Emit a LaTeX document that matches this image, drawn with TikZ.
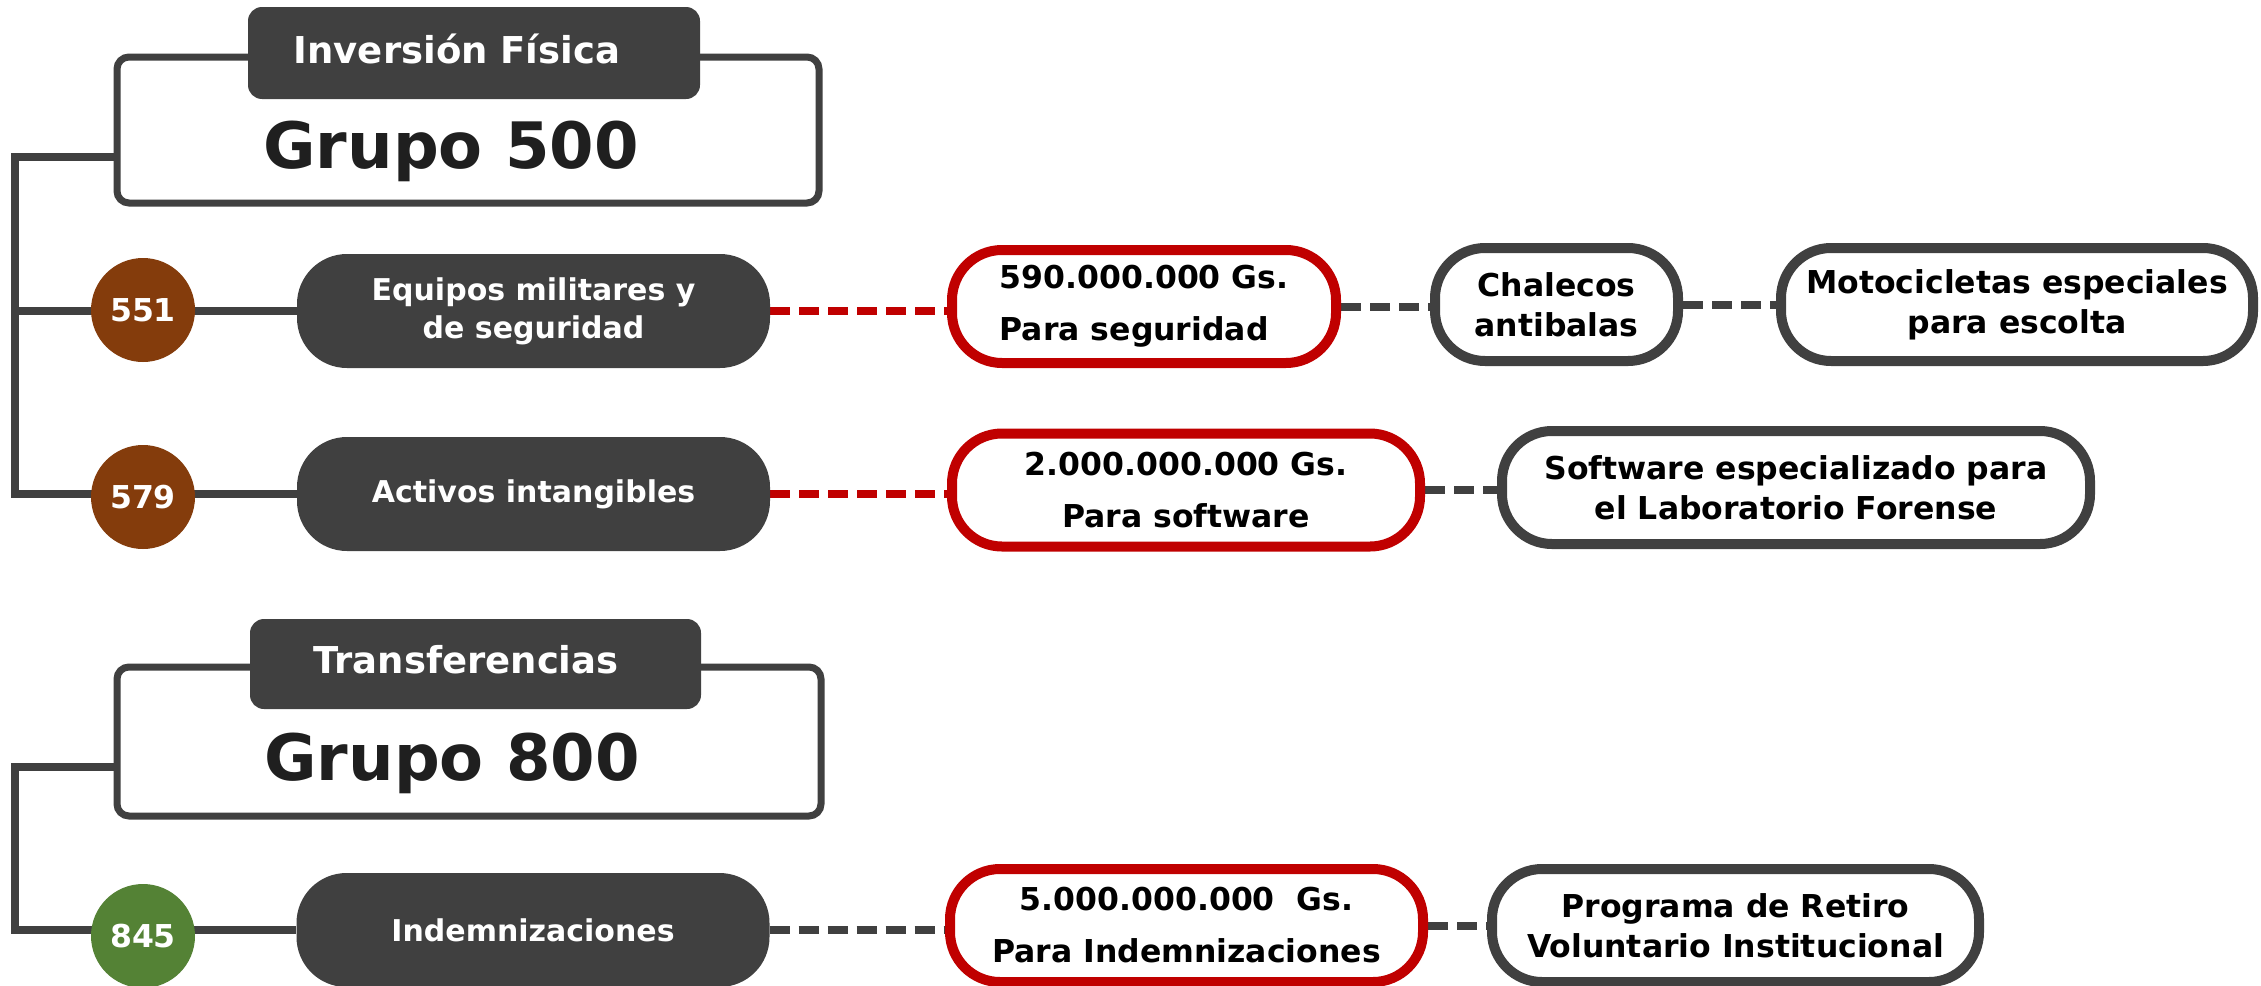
\documentclass[tikz,border=0pt]{standalone}
\usepackage{fontspec}
\setmainfont{DejaVu Sans}
\usetikzlibrary{backgrounds}
\definecolor{dg}{HTML}{404040}
\definecolor{rd}{HTML}{C00000}
\definecolor{brn}{HTML}{843C0C}
\definecolor{grn}{HTML}{548235}
\definecolor{tx}{HTML}{1F1F1F}
\begin{document}
\begin{tikzpicture}[x=1pt,y=-1pt,
  dpill/.style={fill=dg, rounded corners=50pt, minimum width=473pt, minimum height=114pt, inner sep=0pt, text=white, align=center, font={\fontsize{30}{38}\selectfont\bfseries}},
  rpill/.style={draw=rd, line width=10pt, fill=white, rounded corners=50pt, minimum height=113pt, inner sep=0pt, align=center, font={\fontsize{31.5}{52}\selectfont\bfseries}},
  gpill/.style={draw=dg, line width=10pt, fill=white, rounded corners=50pt, minimum height=113pt, inner sep=0pt, align=center, font={\fontsize{31.5}{40}\selectfont\bfseries}},
  num/.style={circle, minimum size=104pt, inner sep=0pt, text=white, font={\fontsize{31.5}{36}\selectfont\bfseries}},
  frame/.style={draw=dg, line width=7pt, rounded corners=12pt, inner sep=0pt},
  tab/.style={fill=dg, rounded corners=14pt, inner sep=0pt},
  tabtxt/.style={text=white, inner sep=0pt, font={\fontsize{37}{44}\selectfont\bfseries}},
  grp/.style={text=tx, inner sep=0pt, font={\fontsize{64}{70}\selectfont\bfseries}},
  tree/.style={draw=dg, line width=7.5pt},
  rdash/.style={draw=rd, line width=8pt, dash pattern=on 20pt off 9pt},
  gdash/.style={draw=dg, line width=8pt, dash pattern=on 20pt off 9pt}
]
\useasboundingbox (0,0) rectangle (2261,985);

% Grupo 500
\node[frame, minimum width=702pt, minimum height=146pt] (f500) at (468,130) {};
\node[tab, minimum width=452pt, minimum height=92pt] (tab500) at (474,53) {};
\node[tabtxt, anchor=base] (t500) at (457,63) {Inversión Física};
\node[grp, anchor=base] (g500) at (451,168) {Grupo 500};

\node[dpill] (p551) at (533.5,311) {Equipos militares y\\de seguridad};
\node[num, fill=brn] (c551) at (143,310) {551};
\node[dpill] (p579) at (533.5,494) {Activos intangibles};
\node[num, fill=brn] (c579) at (143,497) {579};

\node[rpill, minimum width=384pt, align=left] (m551) at (1144,306.5) {590.000.000 Gs.\\Para seguridad};
\node[gpill, minimum width=243pt] (chal) at (1556.5,304.5) {Chalecos\\antibalas};
\node[gpill, minimum width=472pt] (moto) at (2017,304.5) {Motocicletas especiales\\para escolta};
\node[rpill, minimum width=468pt] (m579) at (1186,490) {2.000.000.000 Gs.\\Para software};
\node[gpill, minimum width=588pt] (soft) at (1796,487.5) {Software especializado para\\el Laboratorio Forense};

% Grupo 800
\node[frame, minimum width=704pt, minimum height=149pt] (f800) at (469,741.5) {};
\node[tab, minimum width=451pt, minimum height=90pt] (tab800) at (475.5,664) {};
\node[tabtxt, anchor=base] (t800) at (466,673) {Transferencias};
\node[grp, anchor=base] (g800) at (452,780) {Grupo 800};

\node[dpill] (p845) at (533,930) {Indemnizaciones};
\node[num, fill=grn] (c845) at (143,936) {845};
\node[rpill, minimum width=473pt] (m845) at (1186.5,925.5) {5.000.000.000\ \ Gs.\\Para Indemnizaciones};
\node[gpill, minimum width=487pt] (prog) at (1735.5,925.5) {Programa de Retiro\\Voluntario Institucional};

\begin{scope}[on background layer]
  \fill[white] (0,0) rectangle (2261,985);
  \coordinate (b500) at (15,157);
  \draw[tree] (b500 -| f500.west) -- (b500) |- (p579.west);
  \draw[tree] (b500 |- p551.west) -- (p551.west);
  \coordinate (b800) at (15,767);
  \draw[tree] (b800 -| f800.west) -- (b800) |- (p845.west);

  \draw[rdash] (p551.east) -- (p551.east -| m551.west);
  \draw[gdash] (m551.east) -- (m551.east -| chal.west);
  \draw[gdash] (chal.east) -- (chal.east -| moto.west);
  \draw[rdash] (p579.east) -- (p579.east -| m579.west);
  \draw[gdash] (m579.east) -- (m579.east -| soft.west);
  \draw[gdash] (p845.east) -- (p845.east -| m845.west);
  \draw[gdash] (m845.east) -- (m845.east -| prog.west);
\end{scope}
\end{tikzpicture}
\end{document}
